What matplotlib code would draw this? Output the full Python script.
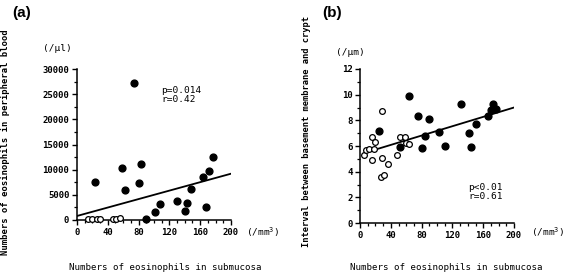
import numpy as np
import matplotlib
matplotlib.use('Agg')
import matplotlib.pyplot as plt
from matplotlib.ticker import MultipleLocator

## Data

# (a) submucosa eosinophils vs peripheral blood eosinophils
a_fill_x = [23, 59, 62, 74, 80, 83, 89, 101, 108, 130, 140, 143, 148, 164, 168, 171, 176]
a_fill_y = [7500, 10300, 5900, 27300, 7400, 11100, 150, 1500, 3200, 3800, 1700, 3400, 6200, 8500, 2600, 9700, 12600]
a_open_x = [14, 20, 26, 30, 47, 51, 56]
a_open_y = [200, 100, 250, 150, 200, 150, 350]
a_line_x = [0, 200]
a_line_y = [800, 9200]

# (b) submucosa eosinophils vs interval basement membrane - crypt
b_fill_x = [24, 52, 63, 75, 81, 84, 90, 103, 110, 131, 141, 144, 150, 166, 170, 173, 177]
b_fill_y = [7.15, 5.9, 9.86, 8.3, 5.84, 6.8, 8.11, 7.07, 6.0, 9.26, 7.0, 5.92, 7.75, 8.35, 8.77, 9.26, 8.87]
b_open_x = [4.5, 8, 12, 15, 16, 18, 19, 27, 28, 28, 31.5, 36, 48, 52, 58, 60, 64]
b_open_y = [5.3, 5.68, 5.8, 6.67, 4.9, 5.74, 6.34, 3.55, 8.72, 5.08, 3.75, 4.58, 5.32, 6.68, 6.68, 6.2, 6.18]
b_line_x = [21, 200]
b_line_y = [5.74, 9.0]

mono = 'DejaVu Sans Mono'
plt.rcParams['font.family'] = mono
plt.rcParams['font.size'] = 6.5

fig = plt.figure(figsize=(5.67, 2.76), dpi=100)

def style_axes(ax, ymax, ymajor, yminor):
    ax.spines['top'].set_visible(False)
    ax.spines['right'].set_visible(False)
    ax.spines['left'].set_linewidth(1.1)
    ax.spines['bottom'].set_linewidth(1.1)
    ax.set_xlim(0, 200)
    ax.set_ylim(0, ymax)
    ax.xaxis.set_major_locator(MultipleLocator(40))
    ax.xaxis.set_minor_locator(MultipleLocator(10))
    ax.yaxis.set_major_locator(MultipleLocator(ymajor))
    ax.yaxis.set_minor_locator(MultipleLocator(yminor))
    ax.tick_params(which='major', length=3.5, width=1.0, labelsize=6.5, pad=2)
    ax.tick_params(which='minor', length=2, width=0.9)
    for lab in ax.get_xticklabels() + ax.get_yticklabels():
        lab.set_fontweight('bold')

# panel (a)
ax1 = fig.add_axes([0.1358, 0.2029, 0.2716, 0.547])
ax1.plot(a_line_x, a_line_y, color='black', lw=1.3, zorder=2)
ax1.scatter(a_fill_x, a_fill_y, s=24, color='black', zorder=3, clip_on=False)
ax1.scatter(a_open_x, a_open_y, s=17, facecolor='white', edgecolor='black', linewidth=0.9, zorder=3, clip_on=False)
style_axes(ax1, 30000, 5000, 2500)
ax1.text(109, 24900, 'p=0.014\nr=0.42', fontsize=6.8, va='center', ha='left', linespacing=0.95)

# panel (b)
ax2 = fig.add_axes([0.635, 0.192, 0.2716, 0.558])
ax2.plot(b_line_x, b_line_y, color='black', lw=1.3, zorder=2)
ax2.scatter(b_fill_x, b_fill_y, s=24, color='black', zorder=3, clip_on=False)
ax2.scatter(b_open_x, b_open_y, s=17, facecolor='white', edgecolor='black', linewidth=0.9, zorder=4, clip_on=False)
style_axes(ax2, 12, 2, 1)
ax2.text(141, 2.4, 'p<0.01\nr=0.61', fontsize=6.8, va='center', ha='left', linespacing=0.95)

# panel letters
fig.text(0.022, 0.952, '(a)', fontsize=11, fontweight='bold', family='Liberation Sans', va='center')
fig.text(0.568, 0.952, '(b)', fontsize=11, fontweight='bold', family='Liberation Sans', va='center')

# units
fig.text(0.075, 0.826, '(/\u03bcl)', fontsize=6.8, va='center')
fig.text(0.593, 0.808, '(/\u03bcm)', fontsize=6.8, va='center')
fig.text(0.434, 0.16, '(/mm$^3$)', fontsize=6.8, va='center')
fig.text(0.936, 0.16, '(/mm$^3$)', fontsize=6.8, va='center')

# axis titles
fig.text(0.292, 0.029, 'Numbers of eosinophils in submucosa', fontsize=6.6, ha='center', va='center')
fig.text(0.787, 0.029, 'Numbers of eosinophils in submucosa', fontsize=6.6, ha='center', va='center')
fig.text(0.010, 0.484, 'Numbers of eosinophils in peripheral blood', fontsize=6.4, rotation=90, ha='center', va='center', fontweight='bold')
fig.text(0.540, 0.523, 'Interval between basement membrane and crypt', fontsize=6.3, rotation=90, ha='center', va='center', fontweight='bold')

fig.savefig('out.png', dpi=100)
